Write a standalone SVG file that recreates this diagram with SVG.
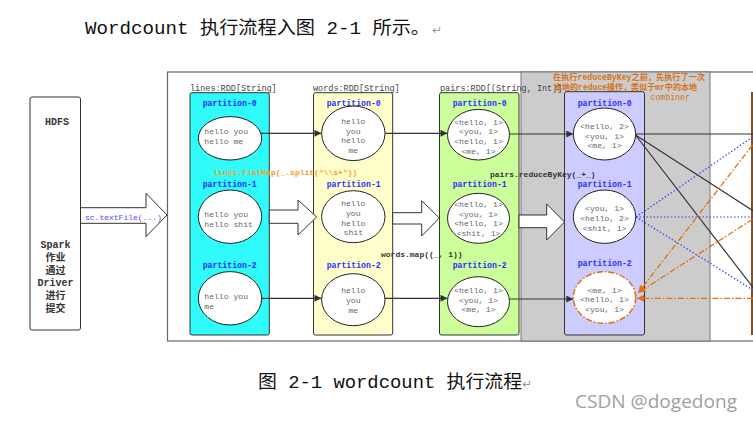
<svg xmlns="http://www.w3.org/2000/svg" width="753" height="423" viewBox="0 0 753 423">
<defs>
<marker id="ah" viewBox="0 0 10 10" refX="10" refY="5" markerWidth="8" markerHeight="7" markerUnits="userSpaceOnUse" orient="auto"><path d="M0,0 L10,5 L0,10 z" fill="#333"/></marker>
<marker id="ao" viewBox="0 0 10 10" refX="10" refY="5" markerWidth="8" markerHeight="7" markerUnits="userSpaceOnUse" orient="auto"><path d="M0,0 L10,5 L0,10 z" fill="#e07010"/></marker>
</defs>
<style>
.doc{font-family:"Liberation Mono","Noto Sans CJK SC",monospace;font-size:18px;fill:#111}
.ret{font-family:"DejaVu Sans",sans-serif;font-size:12px;fill:#999}
.box{stroke:#333;stroke-width:1}
.el{fill:#fff;stroke:#222;stroke-width:1}
.pl{font-family:"Liberation Mono",monospace;font-size:8.2px;font-weight:bold;fill:#2b2bff}
.et{font-family:"Liberation Mono",monospace;font-size:8.1px;fill:#666}
.etm{font-family:"Liberation Mono",monospace;font-size:8.1px;fill:#666;text-anchor:middle}
.hd{font-family:"Liberation Mono",monospace;font-size:8.5px;fill:#444}
.op{font-family:"Liberation Mono",monospace;font-size:8px;font-weight:bold;fill:#333}
.big{fill:#fff;stroke:#333;stroke-width:1}
.ln{stroke:#333;stroke-width:1.2;fill:none}
.bl{stroke:#3a3aff;stroke-width:1.2;stroke-dasharray:1.5,2;fill:none}
.or{stroke:#e07010;stroke-width:1.3;stroke-dasharray:6,2,1.5,2;fill:none}
.dv{font-family:"Liberation Mono","Noto Sans CJK SC",monospace;font-size:10px;font-weight:bold;fill:#333;text-anchor:middle}
.ann{font-family:"Liberation Mono","Noto Sans CJK SC",monospace;font-size:8.2px;font-weight:bold;fill:#d8731a}
</style>
<rect width="753" height="423" fill="#fff"/>

<g id="intro-text">
<text class="doc" x="85" y="34" textLength="345" lengthAdjust="spacingAndGlyphs">Wordcount 执行流程入图 2-1 所示。</text>
<text class="ret" x="432" y="34">↵</text>
</g>

<g id="frame">
<rect x="167.5" y="72" width="590" height="269" fill="#fff" stroke="#666" stroke-width="1.2"/>
<rect x="521" y="72" width="189" height="269" fill="#cccccc" stroke="#777" stroke-width="1"/>
</g>

<g id="hdfs">
<rect class="box" x="30" y="97" width="50.5" height="233" rx="2" fill="#fff"/>
<text class="dv" x="57" y="125">HDFS</text>
<text class="dv" x="55.5" y="248">Spark</text>
<text class="dv" x="55.5" y="261">作业</text>
<text class="dv" x="55.5" y="274">通过</text>
<text class="dv" x="55.5" y="286">Driver</text>
<text class="dv" x="55.5" y="299">进行</text>
<text class="dv" x="55.5" y="312">提交</text>
</g>

<g id="lines-rdd">
<text class="hd" x="190" y="91">lines:RDD[String]</text>
<rect class="box" x="190" y="92.7" width="79.3" height="242.3" rx="2" fill="#30fafa"/>
<text class="pl" x="202.7" y="106">partition-0</text>
<ellipse class="el" cx="230" cy="138.3" rx="31.7" ry="21.7"/>
<text class="et" x="204.3" y="134">hello you</text>
<text class="et" x="204.3" y="144">hello me</text>
<text class="pl" x="202.7" y="187">partition-1</text>
<ellipse class="el" cx="230" cy="216.7" rx="31.7" ry="26.7"/>
<text class="et" x="204.3" y="217">hello you</text>
<text class="et" x="204.3" y="227">hello shit</text>
<text class="pl" x="202.7" y="267.5">partition-2</text>
<ellipse class="el" cx="230" cy="298.3" rx="31.7" ry="26.7"/>
<text class="et" x="204.3" y="298.7">hello you</text>
<text class="et" x="204.3" y="308.7">me</text>
</g>

<g id="words-rdd">
<text class="hd" x="313" y="91">words:RDD[String]</text>
<rect class="box" x="313.5" y="92.7" width="79.2" height="242.3" rx="2" fill="#ffffcc"/>
<text class="pl" x="326.7" y="105.5">partition-0</text>
<ellipse class="el" cx="353.3" cy="133.3" rx="31.7" ry="27.3"/>
<text class="etm" x="353.3" y="123.7">hello</text>
<text class="etm" x="353.3" y="133.5">you</text>
<text class="etm" x="353.3" y="143.3">hello</text>
<text class="etm" x="353.3" y="153">me</text>
<text class="pl" x="326.7" y="186.5">partition-1</text>
<ellipse class="el" cx="353.3" cy="216.7" rx="31.7" ry="26"/>
<text class="etm" x="353.3" y="206.3">hello</text>
<text class="etm" x="353.3" y="216">you</text>
<text class="etm" x="353.3" y="225.7">hello</text>
<text class="etm" x="353.3" y="235.3">shit</text>
<text class="pl" x="326.7" y="267.5">partition-2</text>
<ellipse class="el" cx="353.3" cy="299.7" rx="31.7" ry="26"/>
<text class="etm" x="353.3" y="293">hello</text>
<text class="etm" x="353.3" y="303">you</text>
<text class="etm" x="353.3" y="312.7">me</text>
</g>

<g id="pairs-rdd">
<text class="hd" x="440" y="91">pairs:RDD[(String, Int)]</text>
<rect class="box" x="439.5" y="92.7" width="79.5" height="242.3" rx="2" fill="#ccff99"/>
<text class="pl" x="452.7" y="105.5">partition-0</text>
<ellipse class="el" cx="478.5" cy="134.7" rx="31" ry="25.3"/>
<text class="etm" x="478.5" y="124.7">&lt;hello, 1&gt;</text>
<text class="etm" x="478.5" y="134.3">&lt;you, 1&gt;</text>
<text class="etm" x="478.5" y="144">&lt;hello, 1&gt;</text>
<text class="etm" x="478.5" y="153.7">&lt;me, 1&gt;</text>
<text class="pl" x="452.7" y="186.5">partition-1</text>
<ellipse class="el" cx="478.5" cy="218.3" rx="31" ry="25"/>
<text class="etm" x="478.5" y="207">&lt;hello, 1&gt;</text>
<text class="etm" x="478.5" y="216.7">&lt;you, 1&gt;</text>
<text class="etm" x="478.5" y="226.3">&lt;hello, 1&gt;</text>
<text class="etm" x="478.5" y="236">&lt;shit, 1&gt;</text>
<text class="pl" x="452.7" y="267.5">partition-2</text>
<ellipse class="el" cx="478.5" cy="301.7" rx="31" ry="25"/>
<text class="etm" x="478.5" y="293">&lt;hello, 1&gt;</text>
<text class="etm" x="478.5" y="302.7">&lt;you, 1&gt;</text>
<text class="etm" x="478.5" y="312.3">&lt;me, 1&gt;</text>
</g>

<g id="reduced-rdd">
<rect class="box" x="564.5" y="91.7" width="80" height="243.3" rx="2" fill="#ccccff"/>
<text class="pl" x="577.7" y="105.7">partition-0</text>
<ellipse class="el" cx="604.5" cy="134" rx="31.2" ry="26"/>
<text class="etm" x="604.5" y="129">&lt;hello, 2&gt;</text>
<text class="etm" x="604.5" y="138.7">&lt;you, 1&gt;</text>
<text class="etm" x="604.5" y="148.3">&lt;me, 1&gt;</text>
<text class="pl" x="577.7" y="187.3">partition-1</text>
<ellipse class="el" cx="604.5" cy="216.7" rx="31.2" ry="26.7"/>
<text class="etm" x="604.5" y="211.3">&lt;you, 1&gt;</text>
<text class="etm" x="604.5" y="221">&lt;hello, 2&gt;</text>
<text class="etm" x="604.5" y="230.7">&lt;shit, 1&gt;</text>
<text class="pl" x="577.7" y="266.3">partition-2</text>
<ellipse cx="604.5" cy="297.5" rx="31.2" ry="25.8" fill="#fff" stroke="#e07010" stroke-width="1.5" stroke-dasharray="6,2,1.5,2"/>
<text class="etm" x="604.5" y="293">&lt;me, 1&gt;</text>
<text class="etm" x="604.5" y="302.3">&lt;hello, 1&gt;</text>
<text class="etm" x="604.5" y="312">&lt;you, 1&gt;</text>
</g>

<g id="next-stage">
<rect x="751" y="92" width="3" height="243" fill="#7a5230"/>
</g>

<g id="connectors">
<polygon class="big" points="80.5,207.7 146,207.7 146,193.3 167,215 146,236.7 146,223.3 80.5,223.3"/>
<polygon class="big" points="269.3,210 298,210 298,200 316.7,217 298,235 298,223.3 269.3,223.3"/>
<polygon class="big" points="392.7,212.7 421.7,212.7 421.7,200.7 439.3,218 421.7,236 421.7,224 392.7,224"/>
<polygon class="big" points="519,215 546.7,215 546.7,204 564.5,222 546.7,240 546.7,227.7 519,227.7"/>
<line class="ln" x1="261" y1="133.3" x2="321.5" y2="133.3" marker-end="url(#ah)"/>
<line class="ln" x1="261" y1="298.3" x2="321.5" y2="298.3" marker-end="url(#ah)"/>
<line class="ln" x1="385" y1="133.3" x2="447.5" y2="133.3" marker-end="url(#ah)"/>
<line class="ln" x1="385" y1="298.3" x2="447.5" y2="298.3" marker-end="url(#ah)"/>
<line class="ln" x1="509.5" y1="134" x2="573.3" y2="134" marker-end="url(#ah)"/>
<line class="ln" x1="509.5" y1="299" x2="573.3" y2="299" marker-end="url(#ah)"/>
<line class="ln" x1="635.7" y1="134" x2="753" y2="134"/>
<line class="ln" x1="635.5" y1="135" x2="753" y2="210.7"/>
<line class="ln" x1="635.5" y1="135" x2="753" y2="287.5"/>
<line class="bl" x1="636" y1="217" x2="753" y2="136.7"/>
<line class="bl" x1="636" y1="217" x2="753" y2="217" stroke-width="2"/>
<line class="bl" x1="636" y1="217" x2="753" y2="290"/>
<line class="or" x1="752.5" y1="145" x2="638.5" y2="292.5" marker-end="url(#ao)"/>
<line class="or" x1="752.5" y1="219.3" x2="638.5" y2="292.5" marker-end="url(#ao)"/>
<line class="or" x1="753" y1="298.3" x2="637" y2="298.3" marker-end="url(#ao)"/>
</g>

<g id="labels">
<text class="op" x="85" y="219.5" style="fill:#4a4aff;font-weight:normal">sc.textFile(...)</text>
<text class="op" x="213.3" y="174.5" style="fill:#ff9a1a">lines.flatMap(_.split("\\s+"))</text>
<text class="op" x="381" y="257">words.map((_, 1))</text>
<text class="op" x="490" y="177">pairs.reduceByKey(_+_)</text>
<text class="ann" x="553" y="79.5" textLength="152" lengthAdjust="spacingAndGlyphs">在执行reduceByKey之前，先执行了一次</text>
<text class="ann" x="554" y="90" textLength="143" lengthAdjust="spacingAndGlyphs">本地的reduce操作，类似于mr中的本地</text>
<text class="ann" x="650.5" y="100" style="font-weight:normal">combiner</text>
</g>

<g id="caption">
<text class="doc" x="258" y="388" textLength="264" lengthAdjust="spacingAndGlyphs">图 2-1 wordcount 执行流程</text>
<text class="ret" x="522" y="388">↵</text>
</g>
<text x="575" y="408" font-family="'Open Sans','Noto Sans',sans-serif" font-size="17.5px" fill="#a0a0a0" textLength="162" lengthAdjust="spacingAndGlyphs">CSDN @dogedong</text>
</svg>
